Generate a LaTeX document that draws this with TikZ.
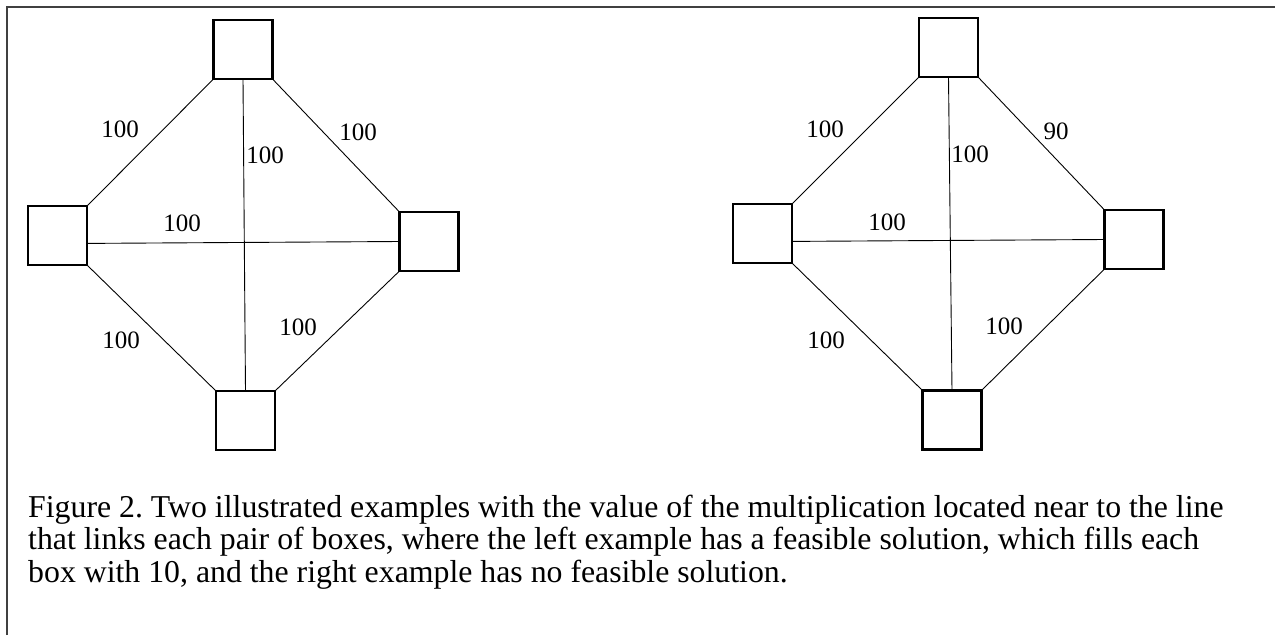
\documentclass[tikz,border=0pt]{standalone}
\usepackage{fontspec}
\setmainfont{Liberation Serif}
\frenchspacing
\begin{document}
\begin{tikzpicture}[x=1pt,y=-1pt,
  cell/.style={draw,line width=2.2pt,minimum size=59pt,inner sep=0pt,outer sep=0pt},
  link/.style={line width=0.9pt},
  val/.style={inner sep=0pt,font=\fontsize{25}{28}\selectfont},
  frame/.style={line width=2pt,draw=black!75}]
\useasboundingbox (0,0) rectangle (1275,635);
\draw[frame] (7,635) -- (7,7) -- (1275,7);
% left example
\node[cell] (lt) at (243,49.5) {};
\node[cell] (ll) at (57.5,235.5) {};
\node[cell] (lr) at (429,241.5) {};
\node[cell] (lb) at (245.5,420.5) {};
\draw[link] (lt.south west) -- (ll.north east);
\draw[link] (lt.south east) -- (lr.north west);
\draw[link] (ll.south east) -- (lb.north west);
\draw[link] (lr.south west) -- (lb.north east);
\draw[link] (lt.south) -- (lb.north);
\draw[link] (ll.-15) -- (lr.west);
\node[val] (l1) at (120,129) {100};
\node[val] (l2) at (265,155) {100};
\node[val] (l3) at (358,132) {100};
\node[val] (l4) at (182,223) {100};
\node[val] (l5) at (121,340) {100};
\node[val] (l6) at (298,327) {100};
% right example
\node[cell] (rt) at (948.5,47.5) {};
\node[cell] (rl) at (762.5,233.5) {};
\node[cell] (rr) at (1134,239.5) {};
\node[cell] (rb) at (952,420) {};
\draw[link] (rt.south west) -- (rl.north east);
\draw[link] (rt.south east) -- (rr.north west);
\draw[link] (rl.south east) -- (rb.north west);
\draw[link] (rr.south west) -- (rb.north east);
\draw[link] (rt.south) -- (rb.north);
\draw[link] (rl.-15) -- (rr.west);
\node[val] (r1) at (825,129) {100};
\node[val] (r2) at (970,154) {100};
\node[val] (r3) at (1056,131) {90};
\node[val] (r4) at (887,222) {100};
\node[val] (r5) at (826,340) {100};
\node[val] (r6) at (1004,326) {100};
% caption
\node[anchor=base west,inner sep=0pt,align=left,font=\fontsize{31.8}{32.5}\selectfont] (cap) at (28,582)
{Figure 2. Two illustrated examples with the value of the multiplication located near to the line\\
that links each pair of boxes, where the left example has a feasible solution, which fills each\\
box with 10, and the right example has no feasible solution.};
\end{tikzpicture}
\end{document}
